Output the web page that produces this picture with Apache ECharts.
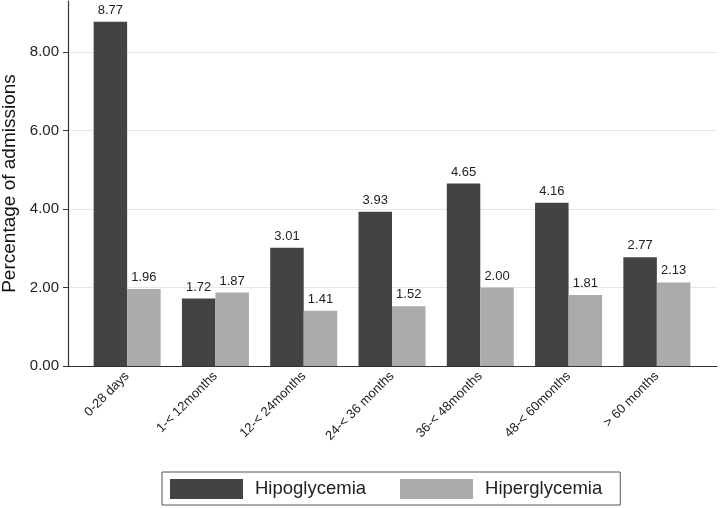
<!DOCTYPE html>
<html><head><meta charset="utf-8">
<script src="https://cdn.jsdelivr.net/npm/echarts@6/dist/echarts.min.js"></script>
<style>html,body{margin:0;padding:0;background:#fff}#c{width:725px;height:508px}</style>
</head><body><div id="c"></div>
<script>
const categories = ["0-28 days", "1-< 12months", "12-< 24months", "24-< 36 months", "36-< 48months", "48-< 60months", "> 60 months"];
const hipoglycemia = [8.77, 1.72, 3.01, 3.93, 4.65, 4.16, 2.77];
const hiperglycemia = [1.96, 1.87, 1.41, 1.52, 2.00, 1.81, 2.13];
const yTicks = [0, 2, 4, 6, 8];
const seriesNames = ["Hipoglycemia", "Hiperglycemia"];

const FONT = "Liberation Sans, Arial, sans-serif";
const TOP = 1, BOTTOM = 508 - 366;
const YMAX = 9.3;

const chart = echarts.init(document.getElementById('c'));
chart.setOption({
  animation: false,
  textStyle: { fontFamily: FONT },
  grid: [
    { left: 68, right: 8, top: TOP, bottom: BOTTOM, outerBoundsMode: 'none', containLabel: false },
    { left: 83, right: 24, top: TOP, bottom: BOTTOM, outerBoundsMode: 'none', containLabel: false }
  ],
  xAxis: [
    { gridIndex: 0, type: 'value', min: 0, max: 1, axisLine: { show: true, onZero: false, lineStyle: { color: '#333', width: 1.2 } },
      axisTick: { show: false }, axisLabel: { show: false }, splitLine: { show: false }, z: 5 },
    { gridIndex: 1, type: 'category', data: categories,
      axisLine: { show: false }, axisTick: { show: false },
      axisLabel: { rotate: 45, fontSize: 13, color: '#222', margin: 8, fontFamily: FONT } }
  ],
  yAxis: [
    { gridIndex: 0, type: 'value', min: 0, max: YMAX, z: 5,
      axisLine: { show: true, lineStyle: { color: '#333', width: 1.2 } },
      axisTick: { show: true, length: 5, lineStyle: { color: '#333' }, customValues: yTicks },
      axisLabel: { fontSize: 15, color: '#222', margin: 9, fontFamily: FONT, customValues: yTicks,
        formatter: v => v.toFixed(2) },
      splitLine: { show: false },
      name: 'Percentage of admissions', nameLocation: 'middle', nameGap: 46, nameRotate: 90,
      nameTextStyle: { fontSize: 19, color: '#111', fontFamily: FONT } },
    { gridIndex: 1, type: 'value', min: 0, max: YMAX, show: false, splitLine: { show: false } }
  ],
  legend: {
    data: seriesNames, left: 162, top: 472, orient: 'horizontal',
    itemWidth: 73, itemHeight: 20, itemGap: 34,
    borderColor: '#555', borderWidth: 1, borderRadius: 0,
    padding: [7, 18, 6, 8],
    icon: 'rect',
    textStyle: { fontSize: 18.5, color: '#222', fontFamily: FONT, padding: [0, 0, 0, 7] }
  },
  series: [
    { type: 'line', xAxisIndex: 0, yAxisIndex: 0, data: [], silent: true, z: 0,
      markLine: { silent: true, symbol: 'none', label: { show: false }, z: 0,
        lineStyle: { color: '#e6e6e6', type: 'solid', width: 1 },
        data: yTicks.filter(v => v > 0).map(v => ({ yAxis: v })) } },
    { name: seriesNames[0], type: 'bar', xAxisIndex: 1, yAxisIndex: 1, data: hipoglycemia, z: 3,
      barWidth: 33.5, barGap: '0%', itemStyle: { color: '#434343' },
      label: { show: true, position: 'top', distance: 5, fontSize: 13, color: '#222', fontFamily: FONT,
        formatter: p => p.value.toFixed(2) } },
    { name: seriesNames[1], type: 'bar', xAxisIndex: 1, yAxisIndex: 1, data: hiperglycemia, z: 3,
      barWidth: 33.5, barGap: '0%', itemStyle: { color: '#ababab' },
      label: { show: true, position: 'top', distance: 5, fontSize: 13, color: '#222', fontFamily: FONT,
        formatter: p => p.value.toFixed(2) } }
  ]
});
</script></body></html>
